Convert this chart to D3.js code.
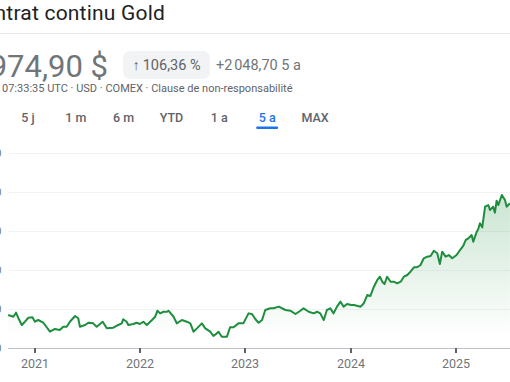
<!DOCTYPE html>
<html>
<head>
<meta charset="utf-8">
<script src="https://cdn.jsdelivr.net/npm/d3@7"></script>
<style>
  body { margin: 0; background: #fff; overflow: hidden; }
  svg { display: block; font-family: Roboto, 'Noto Sans', sans-serif; }
</style>
</head>
<body>
<div id="chart"></div>
<script>
// gold continuous contract, 5 years
const dates = [
  '2020-09-30', '2020-10-18', '2020-10-27', '2020-11-04', '2020-11-16', '2020-11-27', '2020-12-09', '2020-12-23',
  '2021-01-01', '2021-01-12', '2021-01-30', '2021-02-22', '2021-03-11', '2021-03-28', '2021-04-09', '2021-04-21',
  '2021-05-02', '2021-05-20', '2021-05-31', '2021-06-06', '2021-06-24', '2021-07-05', '2021-07-22', '2021-08-03',
  '2021-08-24', '2021-09-07', '2021-09-30', '2021-10-17', '2021-10-29', '2021-11-03', '2021-11-15', '2021-11-21',
  '2021-12-08', '2021-12-20', '2021-12-31', '2022-01-12', '2022-01-24', '2022-02-11', '2022-02-22', '2022-03-02',
  '2022-03-11', '2022-03-23', '2022-04-04', '2022-04-09', '2022-04-27', '2022-05-08', '2022-05-26', '2022-06-12',
  '2022-06-24', '2022-07-05', '2022-07-17', '2022-08-03', '2022-08-15', '2022-09-01', '2022-09-12', '2022-09-24',
  '2022-09-30', '2022-10-11', '2022-10-29', '2022-11-09', '2022-11-21', '2022-12-08', '2022-12-25', '2023-01-12',
  '2023-01-24', '2023-02-05', '2023-02-16', '2023-02-28', '2023-03-11', '2023-03-29', '2023-04-09', '2023-04-27',
  '2023-05-20', '2023-06-06', '2023-06-24', '2023-07-11', '2023-07-22', '2023-08-09', '2023-08-26', '2023-09-07',
  '2023-09-18', '2023-09-30', '2023-10-11', '2023-10-23', '2023-11-03', '2023-11-15', '2023-11-27', '2023-12-08',
  '2023-12-20', '2024-01-03', '2024-01-13', '2024-02-05', '2024-02-16', '2024-02-28', '2024-03-10', '2024-03-22',
  '2024-04-03', '2024-04-12', '2024-04-20', '2024-04-28', '2024-05-07', '2024-05-19', '2024-05-30', '2024-06-11',
  '2024-06-23', '2024-07-04', '2024-07-16', '2024-07-27', '2024-08-08', '2024-08-19', '2024-08-31', '2024-09-11',
  '2024-09-23', '2024-10-05', '2024-10-16', '2024-10-28', '2024-11-06', '2024-11-14', '2024-11-26', '2024-12-07',
  '2024-12-19', '2025-01-03', '2025-01-15', '2025-01-26', '2025-02-04', '2025-02-13', '2025-02-24', '2025-03-02',
  '2025-03-14', '2025-03-19', '2025-03-25', '2025-04-02', '2025-04-12', '2025-04-23', '2025-04-29', '2025-05-10',
  '2025-05-16', '2025-05-22', '2025-05-28', '2025-06-09', '2025-06-20', '2025-06-26', '2025-07-07'
]
const prices = [
  1923, 1901, 1953, 1885, 1795, 1837, 1888, 1894,
  1837, 1859, 1824, 1709, 1744, 1731, 1773, 1773,
  1837, 1910, 1881, 1773, 1795, 1824, 1816, 1773,
  1837, 1752, 1760, 1795, 1816, 1868, 1837, 1795,
  1808, 1824, 1808, 1837, 1795, 1859, 1901, 1978,
  1944, 1965, 1965, 1978, 1901, 1816, 1859, 1837,
  1816, 1709, 1752, 1816, 1752, 1709, 1654, 1688,
  1709, 1645, 1645, 1765, 1765, 1816, 1816, 1944,
  1936, 1868, 1824, 1859, 1987, 2009, 2009, 2030,
  1987, 1978, 1936, 1978, 2009, 1965, 1944, 1965,
  1944, 1859, 1987, 2009, 1944, 2030, 2094, 2030,
  2064, 2051, 2051, 2030, 2073, 2179, 2167, 2286,
  2372, 2414, 2350, 2321, 2414, 2350, 2350, 2329,
  2350, 2414, 2436, 2478, 2535, 2535, 2564, 2650,
  2671, 2679, 2747, 2714, 2577, 2735, 2671, 2692,
  2650, 2692, 2756, 2808, 2885, 2906, 2949, 2863,
  2991, 3022, 3099, 3047, 3312, 3333, 3269, 3312,
  3235, 3389, 3333, 3461, 3397, 3312, 3355
]
const yTicks = [1500, 2000, 2500, 3000, 3500, 4000]
const yearTicks = ['2021', '2022', '2023', '2024', '2025']
const tabs = ['5 j', '1 m', '6 m', 'YTD', '1 a', '5 a', 'MAX']
const activeTab = '5 a'

const lastPrice = 3974.90
const change = 2048.70
const changePct = 106.36

const width = 510
const height = 382
const green = '#1e8e3e'
const blue = '#1a73e8'

const fr = d3.formatLocale({ decimal: ',', thousands: '\u202f', grouping: [3], currency: ['', '\u00a0$'] })
const fmtPrice = fr.format(',.2f')
const fmtTick = fr.format(',')

const parse = d3.timeParse('%Y-%m-%d')
const data = dates.map((d, i) => ({ date: parse(d), value: prices[i] }))

const svg = d3.select('#chart').append('svg')
  .attr('width', width)
  .attr('height', height)

// header
svg.append('text')
  .attr('x', 165).attr('y', 20)
  .attr('text-anchor', 'end')
  .attr('font-size', 21)
  .attr('letter-spacing', 0.2)
  .attr('fill', '#202124')
  .text('Contrat continu Gold')

svg.append('line')
  .attr('x1', 0).attr('x2', width)
  .attr('y1', 33.5).attr('y2', 33.5)
  .attr('stroke', '#e8eaed')

svg.append('text')
  .attr('x', 108).attr('y', 77)
  .attr('text-anchor', 'end')
  .attr('font-size', 31)
  .attr('fill', '#70757a')
  .text(fmtPrice(lastPrice) + '\u00a0$')

const badge = svg.append('g')
badge.append('rect')
  .attr('x', 123).attr('y', 51)
  .attr('width', 87).attr('height', 28)
  .attr('rx', 7)
  .attr('fill', '#f1f3f4')
badge.append('text')
  .attr('x', 166.5).attr('y', 70)
  .attr('text-anchor', 'middle')
  .attr('font-size', 14.5)
  .attr('fill', '#5f6368')
  .text('\u2191\u2009' + fr.format('.2f')(changePct) + '\u00a0%')

svg.append('text')
  .attr('x', 216).attr('y', 70)
  .attr('font-size', 14.5)
  .attr('fill', '#70757a')
  .text('+' + fmtPrice(change) + ' 5 a')

svg.append('text')
  .attr('x', 2).attr('y', 92)
  .attr('font-size', 11)
  .attr('fill', '#5f6368')
  .text('07:33:35 UTC · USD · COMEX · Clause de non-responsabilité')

// range tabs
const tabX = d3.scalePoint().domain(tabs).range([28, 315])
const tabG = svg.append('g').selectAll('g')
  .data(tabs)
  .join('g')
  .attr('transform', d => `translate(${tabX(d)},0)`)

tabG.append('text')
  .attr('y', 122)
  .attr('text-anchor', 'middle')
  .attr('font-size', 12.5)
  .attr('font-weight', 500)
  .attr('fill', d => d === activeTab ? blue : '#5f6368')
  .text(d => d)

tabG.filter(d => d === activeTab)
  .append('rect')
  .attr('x', -11).attr('y', 126.5)
  .attr('width', 22).attr('height', 2.5)
  .attr('rx', 1.2)
  .attr('fill', blue)

// chart
const x = d3.scaleTime()
  .domain([new Date(2021, 0, 1), new Date(2025, 0, 1)])
  .range([35, 456])

const y = d3.scaleLinear()
  .domain([yTicks[0], yTicks[yTicks.length - 1]])
  .range([348, 153])

const plotLeft = x(data[0].date)

const defs = svg.append('defs')
const grad = defs.append('linearGradient')
  .attr('id', 'fill-grad')
  .attr('gradientUnits', 'userSpaceOnUse')
  .attr('x1', 0).attr('x2', 0)
  .attr('y1', y(3500)).attr('y2', y(1650))
grad.append('stop').attr('offset', 0).attr('stop-color', green).attr('stop-opacity', 0.24)
grad.append('stop').attr('offset', 1).attr('stop-color', green).attr('stop-opacity', 0)

// gridlines
svg.append('g')
  .selectAll('line')
  .data(yTicks.slice(1))
  .join('line')
  .attr('x1', plotLeft).attr('x2', width)
  .attr('y1', d => Math.round(y(d)) + 0.5)
  .attr('y2', d => Math.round(y(d)) + 0.5)
  .attr('stroke', '#f1f3f4')

// y labels, mostly off the left edge
svg.append('g')
  .selectAll('text')
  .data(yTicks)
  .join('text')
  .attr('x', 1.5)
  .attr('y', d => y(d))
  .attr('dy', '0.35em')
  .attr('text-anchor', 'end')
  .attr('font-size', 11)
  .attr('fill', '#70757a')
  .text(d => fmtTick(d))

const area = d3.area()
  .x(d => x(d.date))
  .y0(y.range()[0])
  .y1(d => y(d.value))

const line = d3.line()
  .x(d => x(d.date))
  .y(d => y(d.value))

svg.append('path')
  .datum(data)
  .attr('d', area)
  .attr('fill', 'url(#fill-grad)')

svg.append('path')
  .datum(data)
  .attr('d', line)
  .attr('fill', 'none')
  .attr('stroke', green)
  .attr('stroke-width', 2)
  .attr('stroke-linejoin', 'round')

// x axis
svg.append('line')
  .attr('x1', plotLeft).attr('x2', width)
  .attr('y1', y.range()[0] + 0.5).attr('y2', y.range()[0] + 0.5)
  .attr('stroke', '#bdc1c6')

const xt = svg.append('g')
  .selectAll('g')
  .data(yearTicks)
  .join('g')
  .attr('transform', d => `translate(${Math.round(x(new Date(+d, 0, 1)))},${y.range()[0]})`)

xt.append('line')
  .attr('y1', 0).attr('y2', 5)
  .attr('stroke', '#5f6368')
  .attr('stroke-width', 2)

xt.append('text')
  .attr('y', 20)
  .attr('text-anchor', 'middle')
  .attr('font-size', 12.5)
  .attr('fill', '#70757a')
  .text(d => d)
</script>
</body>
</html>
